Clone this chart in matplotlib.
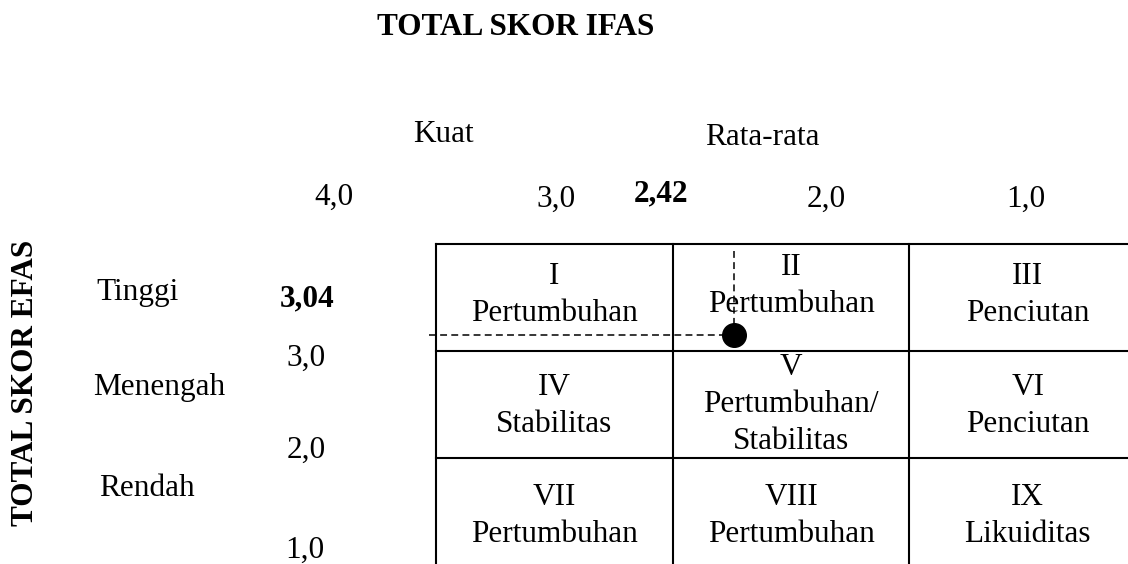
import matplotlib

matplotlib.use("Agg")

import matplotlib.pyplot as plt
from matplotlib import transforms

plt.rcParams["font.family"] = ["Liberation Serif", "DejaVu Serif"]

# IE matrix: IFAS on x (4 -> 1, left to right), EFAS on y (4 -> 1, top to bottom)
ifas_edges = [4.0, 3.0, 2.0, 1.0]
efas_edges = [4.0, 3.0, 2.0, 1.0]
cell_numbers = [
    ["I", "II", "III"],
    ["IV", "V", "VI"],
    ["VII", "VIII", "IX"],
]
cell_strategies = [
    [["Pertumbuhan"], ["Pertumbuhan"], ["Penciutan"]],
    [["Stabilitas"], ["Pertumbuhan/", "Stabilitas"], ["Penciutan"]],
    [["Pertumbuhan"], ["Pertumbuhan"], ["Likuiditas"]],
]
ifas_tick_labels = ["4,0", "3,0", "2,0", "1,0"]
efas_tick_labels = ["3,0", "2,0", "1,0"]
ifas_categories = ["Kuat", "Rata-rata"]
efas_categories = ["Tinggi", "Menengah", "Rendah"]
ifas_total = "2,42"
efas_total = "3,04"

# position of the company point as drawn in the matrix
point_ifas = 2.74
point_efas = 3.15

W, H = 1128, 564
FS = 22.5

fig = plt.figure(figsize=(W / 100, H / 100), dpi=100)
fig.patch.set_facecolor("white")

# matrix in score units
ax = fig.add_axes([0, 0, 1, 1])
ax.set_xlim(5.842, 1.0765)
ax.set_ylim(1.0093, 6.2804)
ax.axis("off")

# overlay in pixel units for the free-floating labels
lay = fig.add_axes([0, 0, 1, 1])
lay.set_xlim(0, W)
lay.set_ylim(H, 0)
lay.axis("off")

# grid (bottom and right edges fall outside the picture)
for x in ifas_edges[:-1]:
    ax.plot([x, x], [efas_edges[0], efas_edges[-1] - 0.3], color="black", lw=1.5,
            solid_capstyle="projecting")
for y in efas_edges[:-1]:
    ax.plot([ifas_edges[0], ifas_edges[-1] - 0.3], [y, y], color="black", lw=1.5,
            solid_capstyle="projecting")

# dashed guide lines and point
dash = (0, (4.5, 2.8))
ax.plot([4.03, point_ifas], [point_efas, point_efas], color="black", lw=1.1, ls=dash)
ax.plot([point_ifas, point_ifas], [3.935, point_efas], color="black", lw=1.1, ls=dash)
ax.plot(point_ifas, point_efas, "o", color="black", ms=17)

# cell labels: x from cell centres, y baselines in pixels
col_centers = [(a + b) / 2 for a, b in zip(ifas_edges[:-1], ifas_edges[1:])]
number_baselines = [[284, 275, 284], [395, 375, 395], [505, 505, 505]]
line_gap = 37
blend = transforms.blended_transform_factory(ax.transData, lay.transData)
for r in range(3):
    for c in range(3):
        base = number_baselines[r][c]
        ax.text(col_centers[c], base, cell_numbers[r][c], transform=blend,
                ha="center", va="baseline", fontsize=FS)
        for k, line in enumerate(cell_strategies[r][c]):
            ax.text(col_centers[c], base + line_gap * (k + 1), line, transform=blend,
                    ha="center", va="baseline", fontsize=FS)

# titles
lay.text(516, 35, "TOTAL SKOR IFAS", ha="center", va="baseline",
         fontsize=FS, fontweight="bold")
lay.text(26, 383, "TOTAL SKOR EFAS", ha="center", va="center", rotation=90,
         rotation_mode="anchor", fontsize=FS, fontweight="bold")

# IFAS side
for (x, y), s in zip([(443, 142), (762, 145)], ifas_categories):
    lay.text(x, y, s, ha="center", va="baseline", fontsize=FS)
for (x, y), s in zip([(334, 205), (556, 207), (826, 207), (1026, 207)], ifas_tick_labels):
    lay.text(x, y, s, ha="center", va="baseline", fontsize=FS)
lay.text(661, 201, ifas_total, ha="center", va="baseline", fontsize=FS, fontweight="bold")

# EFAS side
for (x, y), s in zip([(96, 300), (93, 395), (99, 496)], efas_categories):
    lay.text(x, y, s, ha="left", va="baseline", fontsize=FS)
for (x, y), s in zip([(306, 366), (306, 458), (305, 558)], efas_tick_labels):
    lay.text(x, y, s, ha="center", va="baseline", fontsize=FS)
lay.text(307, 306, efas_total, ha="center", va="baseline", fontsize=FS, fontweight="bold")

fig.savefig("out.png", dpi=100, facecolor=fig.get_facecolor())
